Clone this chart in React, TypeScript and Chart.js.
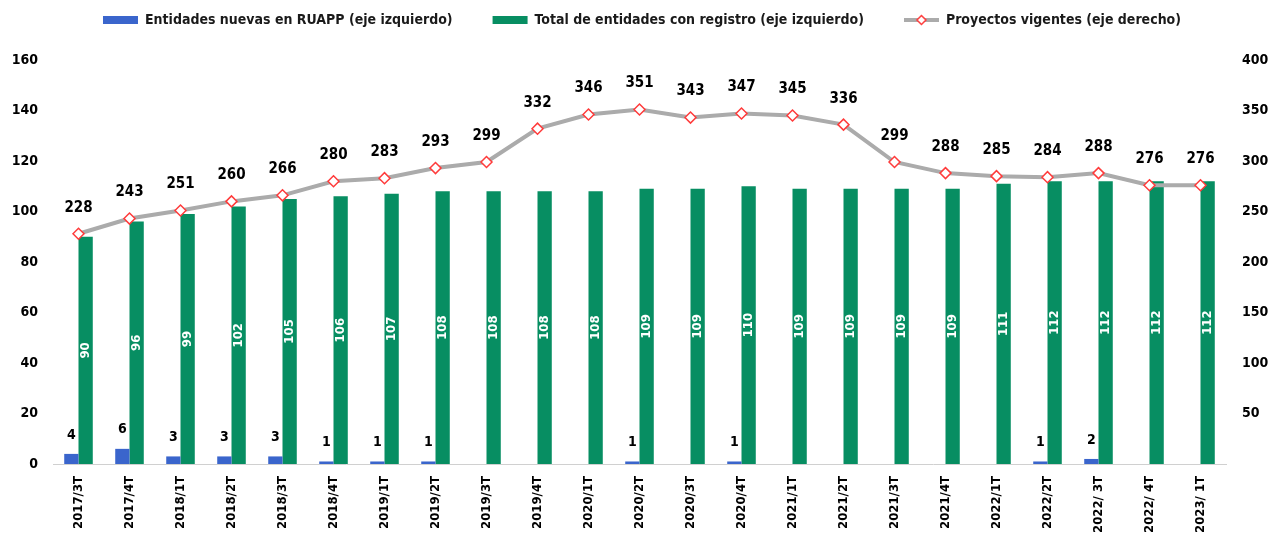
import React, { useEffect, useRef } from 'react';
import { Chart, registerables } from 'chart.js';

Chart.register(...registerables);

const categories = [
  '2017/3T', '2017/4T', '2018/1T', '2018/2T', '2018/3T', '2018/4T',
  '2019/1T', '2019/2T', '2019/3T', '2019/4T', '2020/1T', '2020/2T',
  '2020/3T', '2020/4T', '2021/1T', '2021/2T', '2021/3T', '2021/4T',
  '2022/1T', '2022/2T', '2022/ 3T', '2022/ 4T', '2023/ 1T',
];
const newEntities = [4, 6, 3, 3, 3, 1, 1, 1, 0, 0, 0, 1, 0, 1, 0, 0, 0, 0, 0, 1, 2, 0, 0];
const totalEntities = [90, 96, 99, 102, 105, 106, 107, 108, 108, 108, 108, 109, 109, 110, 109, 109, 109, 109, 111, 112, 112, 112, 112];
const projects = [228, 243, 251, 260, 266, 280, 283, 293, 299, 332, 346, 351, 343, 347, 345, 336, 299, 288, 285, 284, 288, 276, 276];

const seriesNames = [
  'Entidades nuevas en RUAPP (eje izquierdo)',
  'Total de entidades con registro (eje izquierdo)',
  'Proyectos vigentes (eje derecho)',
];

const FONT = '"Liberation Sans Narrow", "DejaVu Sans Condensed", "Open Sans", sans-serif';
const BLUE = '#3A65CC';
const GREEN = '#078E62';
const GRAY = '#ABABAB';
const RED = '#FF3B3B';

function makeLineIcon(): HTMLCanvasElement {
  const c = document.createElement('canvas');
  c.width = 35;
  c.height = 12;
  const g = c.getContext('2d')!;
  g.strokeStyle = GRAY;
  g.lineWidth = 4;
  g.beginPath();
  g.moveTo(0, 6);
  g.lineTo(35, 6);
  g.stroke();
  g.fillStyle = '#fff';
  g.strokeStyle = RED;
  g.lineWidth = 1.5;
  g.beginPath();
  g.moveTo(17.5, 1.5);
  g.lineTo(22, 6);
  g.lineTo(17.5, 10.5);
  g.lineTo(13, 6);
  g.closePath();
  g.fill();
  g.stroke();
  return c;
}

const legendSpacer = {
  id: 'legendSpacer',
  beforeLayout(chart: any) {
    const legend = chart.legend;
    if (!legend || legend.__wrapped) return;
    const orig = legend.fit;
    legend.fit = function () {
      orig.call(this);
      this.height += 23;
    };
    legend.__wrapped = true;
  },
};

const valueLabels = {
  id: 'valueLabels',
  afterDatasetsDraw(chart: any) {
    const ctx = chart.ctx;
    ctx.save();
    ctx.textAlign = 'center';
    ctx.textBaseline = 'middle';
    // line labels
    ctx.fillStyle = '#000';
    ctx.font = `bold 15px ${FONT}`;
    chart.getDatasetMeta(2).data.forEach((pt: any, i: number) => {
      ctx.fillText(String(projects[i]), pt.x, pt.y - 26);
    });
    // blue bar labels
    ctx.font = `bold 14px ${FONT}`;
    chart.getDatasetMeta(0).data.forEach((bar: any, i: number) => {
      if (newEntities[i] > 0) ctx.fillText(String(newEntities[i]), bar.x, bar.y - 19);
    });
    // green bar labels (rotated, inside)
    ctx.font = `bold 13px ${FONT}`;
    ctx.fillStyle = '#fff';
    chart.getDatasetMeta(1).data.forEach((bar: any, i: number) => {
      ctx.save();
      ctx.translate(bar.x, (bar.y + bar.base) / 2);
      ctx.rotate(-Math.PI / 2);
      ctx.fillText(String(totalEntities[i]), 0, 0);
      ctx.restore();
    });
    ctx.restore();
  },
};

export default function App() {
  const ref = useRef<HTMLCanvasElement>(null);

  useEffect(() => {
    document.body.style.margin = '0';
    const icon = makeLineIcon();
    const chart = new Chart(ref.current!, {
      type: 'bar',
      data: {
        labels: categories,
        datasets: [
          {
            type: 'bar',
            label: seriesNames[0],
            data: newEntities,
            backgroundColor: BLUE,
            yAxisID: 'y',
            order: 1,
            categoryPercentage: 0.56,
            barPercentage: 1,
          },
          {
            type: 'bar',
            label: seriesNames[1],
            data: totalEntities,
            backgroundColor: GREEN,
            yAxisID: 'y',
            order: 1,
            categoryPercentage: 0.56,
            barPercentage: 1,
          },
          {
            type: 'line',
            label: seriesNames[2],
            data: projects,
            borderColor: GRAY,
            borderWidth: 4,
            backgroundColor: '#fff',
            pointStyle: 'rectRot',
            pointRadius: 5.5,
            pointBorderColor: RED,
            pointBackgroundColor: '#fff',
            pointBorderWidth: 1.5,
            tension: 0,
            yAxisID: 'y1',
            order: 0,
          } as any,
        ],
      },
      options: {
        animation: false,
        responsive: false,
        layout: { padding: { top: -27, left: 0, right: 0, bottom: 0 } },
        plugins: {
          tooltip: { enabled: false },
          legend: {
            display: true,
            position: 'top',
            labels: {
              usePointStyle: true,
              pointStyleWidth: 35,
              boxHeight: 8,
              padding: 40,
              color: '#1a1a1a',
              font: { family: FONT, size: 14, weight: 'bold' },
              sort: (a: any, b: any) => a.datasetIndex - b.datasetIndex,
              generateLabels: (c: any) => {
                const items = (Chart.defaults.plugins.legend.labels as any).generateLabels(c);
                items.forEach((it: any) => {
                  if (it.datasetIndex === 2) {
                    it.pointStyle = icon;
                  } else {
                    it.pointStyle = 'rect';
                    it.lineWidth = 0;
                    it.strokeStyle = 'rgba(0,0,0,0)';
                  }
                });
                return items;
              },
            },
          },
        },
        scales: {
          x: {
            grid: { display: false, drawTicks: false },
            border: { display: true, color: '#D0D0D0', width: 1 },
            ticks: {
              autoSkip: false,
              maxRotation: 90,
              minRotation: 90,
              padding: 12,
              color: '#000',
              font: { family: FONT, size: 13, weight: 'bold' },
            },
            afterFit: (s: any) => {
              s.height = 73;
            },
          },
          y: {
            position: 'left',
            min: 0,
            max: 160,
            grid: { display: false, drawTicks: false },
            border: { display: false },
            ticks: {
              stepSize: 20,
              padding: 15,
              color: '#000',
              font: { family: FONT, size: 14, weight: 'bold' },
            },
            afterFit: (s: any) => {
              s.width = 53;
            },
          },
          y1: {
            position: 'right',
            min: 0,
            max: 400,
            grid: { display: false, drawTicks: false },
            border: { display: false },
            ticks: {
              stepSize: 50,
              padding: 16,
              color: '#000',
              font: { family: FONT, size: 14, weight: 'bold' },
              callback: (v: any) => (Number(v) === 0 ? '' : String(v)),
            },
            afterFit: (s: any) => {
              s.width = 58;
            },
          },
        },
      },
      plugins: [legendSpacer, valueLabels],
    });
    return () => chart.destroy();
  }, []);

  return (
    <div style={{ width: 1284, height: 537 }}>
      <canvas ref={ref} width={1284} height={537} style={{ display: 'block' }} />
    </div>
  );
}
